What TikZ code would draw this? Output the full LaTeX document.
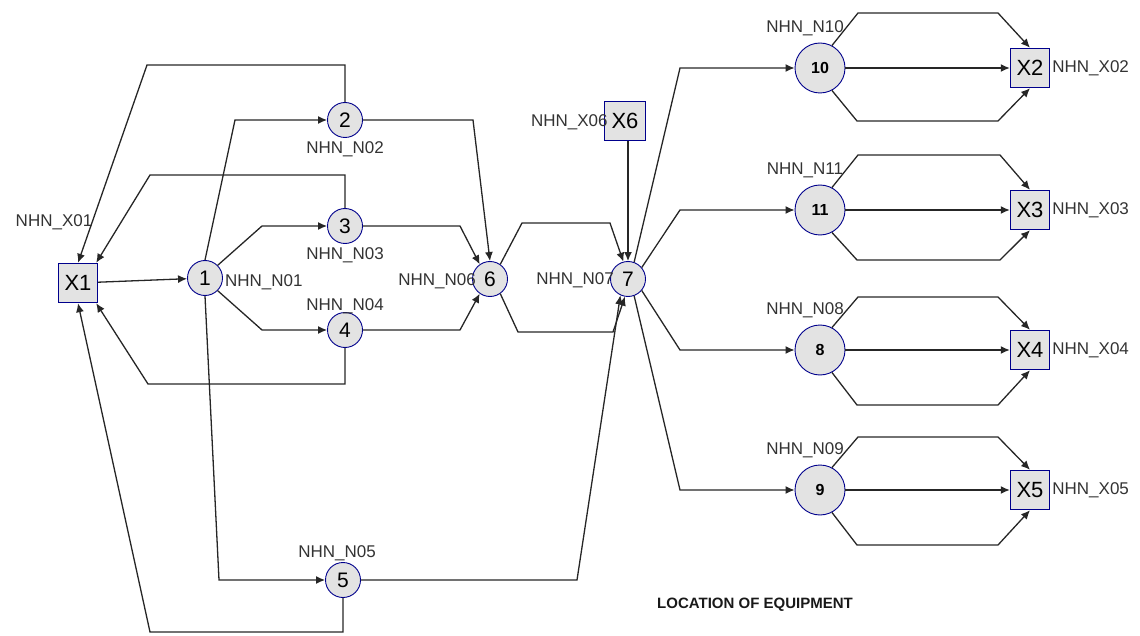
\documentclass[tikz,border=0pt]{standalone}
\usepackage{fontspec}
\setmainfont{Liberation Sans}
\usetikzlibrary{arrows.meta,positioning}

\tikzset{
    stn/.style={circle, draw=blue!55!black, line width=0.9pt, fill=gray!22,
        minimum size=35pt, inner sep=0pt, font=\fontsize{21}{21}\selectfont},
    bigstn/.style={stn, minimum size=50pt, font=\bfseries\fontsize{16}{16}\selectfont},
    eqp/.style={rectangle, draw=blue!55!black, line width=1.4pt, fill=gray!22,
        minimum size=39pt, inner sep=0pt, font=\fontsize{22}{22}\selectfont},
    lbl/.style={inner sep=1pt, text=black!80, font=\fontsize{17}{17}\selectfont},
    flow/.style={draw=black!85, line width=1.3pt, -{Latex[length=9pt,width=8pt]}},
}

\begin{document}
\begin{tikzpicture}[x=1pt, y=-1pt]
    \useasboundingbox (0,0) rectangle (1140,636);

    % equipment boxes
    \node[eqp] (X1) at (78,283) {X1};
    \node[eqp, minimum width=41pt] (X6) at (625,121) {X6};
    \node[eqp] (X2) at (1030,68) {X2};
    \node[eqp] (X3) at (1030,210) {X3};
    \node[eqp] (X4) at (1030,350) {X4};
    \node[eqp] (X5) at (1030,490) {X5};

    % stations
    \node[stn] (n1) at (205,278) {1};
    \node[stn] (n2) at (345,120) {2};
    \node[stn] (n3) at (345,226) {3};
    \node[stn] (n4) at (345,330) {4};
    \node[stn] (n5) at (343,580) {5};
    \node[stn] (n6) at (490,279) {6};
    \node[stn] (n7) at (628,279) {7};
    \node[bigstn] (n10) at (820,68) {10};
    \node[bigstn] (n11) at (820,210) {11};
    \node[bigstn] (n8) at (820,350) {8};
    \node[bigstn] (n9) at (820,490) {9};

    % labels
    \node[lbl] (lx1) at (54,222) {NHN\_X01};
    \node[lbl, right=1pt of n1, yshift=-4pt] (l1) {NHN\_N01};
    \node[lbl, below=2pt of n2] (l2) {NHN\_N02};
    \node[lbl, below=2pt of n3] (l3) {NHN\_N03};
    \node[lbl, above=-3pt of n4] (l4) {NHN\_N04};
    \node[lbl, above=0pt of n5, xshift=-6pt] (l5) {NHN\_N05};
    \node[lbl, anchor=east] (l6) at ([xshift=5pt,yshift=-2pt]n6.west) {NHN\_N06};
    \node[lbl, anchor=east] (l7) at ([xshift=5pt,yshift=-1pt]n7.west) {NHN\_N07};
    \node[lbl, anchor=east] (lx6) at ([xshift=5pt,yshift=-1pt]X6.west) {NHN\_X06};
    \node[lbl, anchor=south] (l10) at ([xshift=-15pt,yshift=5pt]n10.north) {NHN\_N10};
    \node[lbl, anchor=south] (l11) at ([xshift=-15pt,yshift=5pt]n11.north) {NHN\_N11};
    \node[lbl, anchor=south] (l8) at ([xshift=-15pt,yshift=5pt]n8.north) {NHN\_N08};
    \node[lbl, anchor=south] (l9) at ([xshift=-15pt,yshift=5pt]n9.north) {NHN\_N09};
    \node[lbl, right=1pt of X2] (lx2) {NHN\_X02};
    \node[lbl, right=1pt of X3] (lx3) {NHN\_X03};
    \node[lbl, right=1pt of X4] (lx4) {NHN\_X04};
    \node[lbl, right=1pt of X5] (lx5) {NHN\_X05};
    \node[font=\bfseries\fontsize{15}{15}\selectfont, text=black!90] (cap) at (755,605) {LOCATION OF EQUIPMENT};

    % from X1 out to the first stations
    \draw[flow] (X1) -- (n1);
    \draw[flow] (n1.north) -- (235,120) -- (n2);
    \draw[flow] (n1.45) -- (262,226) -- (n3);
    \draw[flow] (n1.-45) -- (262,330) -- (n4);
    \draw[flow] (n1.south) -- (219,580) -- (n5);

    % returns to X1
    \draw[flow] (n2.north) -- (345,65) -- (147,65) -- (X1.north);
    \draw[flow] (n3.north) -- (345,175) -- (150,175) -- ([xshift=-2pt]X1.north east);
    \draw[flow] (n4.south) -- (345,384) -- (148,384) -- ([xshift=-2pt]X1.south east);
    \draw[flow] (n5.south) -- (343,632) -- (150,632) -- (X1.south);

    % into 6 and 7
    \draw[flow] (n2) -- (473,120) -- (n6.north);
    \draw[flow] (n3) -- (460,226) -- (n6.125);
    \draw[flow] (n4) -- (460,330) -- (n6.235);
    \draw[flow] (n6.55) -- (522,223) -- (610,223) -- (n7.105);
    \draw[flow] (n6.-55) -- (518,332) -- (613,332) -- (n7.260);
    \draw[flow] (X6.south -| n7) -- (n7.north);
    \draw[flow] (n5) -- (577,580) -- (n7.245);

    % out of 7
    \draw[flow] (n7.70) -- (680,68) -- (n10);
    \draw[flow] (n7.40) -- (680,210) -- (n11);
    \draw[flow] (n7.-40) -- (680,350) -- (n8);
    \draw[flow] (n7.-70) -- (680,490) -- (n9);

    % right hand groups
    \draw[flow] (n10) -- (X2);
    \draw[flow] (n10.62) -- (858,13) -- (998,13) -- (X2.north);
    \draw[flow] (n10.-62) -- (857,121) -- (998,121) -- (X2.south);
    \draw[flow] (n11) -- (X3);
    \draw[flow] (n11.62) -- (858,155) -- (1000,155) -- (X3.north);
    \draw[flow] (n11.-62) -- (857,260) -- (1000,260) -- (X3.south);
    \draw[flow] (n8) -- (X4);
    \draw[flow] (n8.62) -- (858,297) -- (998,297) -- (X4.north);
    \draw[flow] (n8.-62) -- (857,405) -- (998,405) -- (X4.south);
    \draw[flow] (n9) -- (X5);
    \draw[flow] (n9.62) -- (858,437) -- (998,437) -- (X5.north);
    \draw[flow] (n9.-62) -- (857,545) -- (998,545) -- (X5.south);
\end{tikzpicture}
\end{document}
